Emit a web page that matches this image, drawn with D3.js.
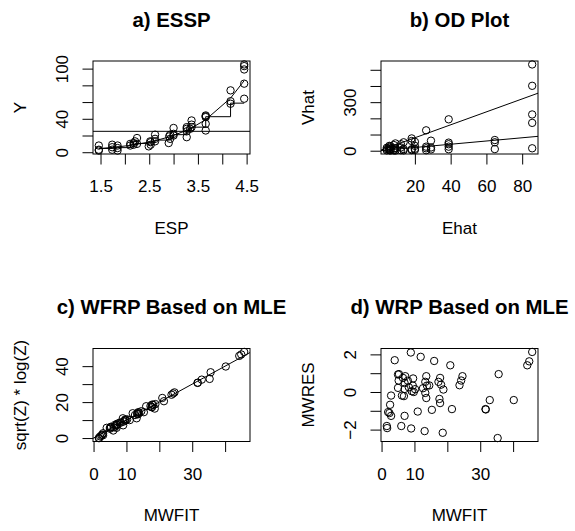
<!DOCTYPE html>
<html>
<head>
<meta charset="utf-8">
<script src="https://cdn.jsdelivr.net/npm/d3@7"></script>
<style>
body { margin: 0; background: #fff; }
svg text { font-family: "Liberation Sans", Arial, Helvetica, sans-serif; fill: #000; }
</style>
</head>
<body>
<svg id="chart" width="575" height="531"></svg>
<script>
// DATA ------------------------------------

// a) ESSP : estimated sufficient predictor vs response
const espA = [1.465, 1.465, 1.465, 1.74, 1.74, 1.74, 1.85, 1.85, 1.85,
  2.11, 2.11, 2.18, 2.18, 2.21, 2.25, 2.25,
  2.49, 2.52, 2.53, 2.53, 2.62, 2.62, 2.62,
  2.90, 2.91, 2.93, 2.93, 3.0, 3.0, 3.0,
  3.27, 3.27, 3.27, 3.27, 3.34, 3.37, 3.37, 3.37,
  3.66, 3.66, 3.66, 3.66, 3.66, 4.17, 4.17, 4.17,
  4.45, 4.45, 4.45, 4.45, 4.45];
const yA = [8, 3, 2, 9, 3, 6, 8, 2, 5,
  10, 8, 11, 9, 13, 17, 10,
  7, 13, 9, 12, 16, 21, 13,
  11, 19, 16, 21, 22, 29, 20,
  30, 18, 25, 28, 28, 38, 30, 33,
  44, 42, 34, 26, 43, 74, 61, 58,
  82, 64, 103, 99, 105];
// fitted curve knots and slice-mean step line
const curveEsp = [1.465, 1.74, 1.85, 2.11, 2.21, 2.49, 2.62, 2.90, 3.0, 3.27, 3.37, 3.66, 4.17, 4.45];
const curveFit = [4.3, 5.7, 6.4, 8.2, 9.1, 12.1, 13.7, 18.2, 20.1, 26.3, 29.1, 38.9, 64.7, 85.6];
const stepFit  = [4.5, 5, 5.5, 9, 10.5, 11.5, 14.5, 17, 21, 26, 30, 42.5, 58.7, 58.7];
const meanY = 25;

// b) OD plot
const ehatB = [4.3, 4.3, 4.3, 5.7, 5.7, 5.7, 5.7, 6.4, 6.4, 6.4,
  8.2, 8.2, 8.2, 8.2, 9.1, 9.1, 9.1, 12.2, 12.2, 12.2, 13.7, 13.7, 13.7,
  18.2, 18.2, 18.2, 18.2, 20.0, 20.0, 20.0, 20.0, 26.3, 26.3, 26.3, 26.3,
  29.0, 29.0, 29.0, 38.9, 38.9, 38.9, 38.9, 38.9,
  64.7, 64.7, 64.7, 85.6, 85.6, 85.6, 85.6, 85.6];
const vhatB = [2, 10, 18, 3, 8, 20, 30, 1, 12, 28,
  2, 5, 15, 35, 1, 14, 45, 3, 20, 40, 2, 10, 52,
  4, 9, 60, 76, 5, 12, 30, 55, 3, 15, 25, 126,
  8, 20, 62, 9, 25, 40, 50, 194,
  10, 52, 66, 15, 172, 224, 401, 533];
const odLines = [{a: 0, b: 1}, {a: 0, b: 4}];

// c) and d) share MWFIT
const mwfit = [45.8, 44.9, 44.3, 35.6, 32.9, 40.2, 31.6, 31.7, 35.3,
  8.9, 11.9, 4.0, 16.0, 20.9, 5.0, 5.3, 7.2, 9.6, 13.6, 17.8,
  24.6, 24.2, 23.7, 5.2, 7.0, 5.0, 7.0, 9.5, 9.2, 9.8,
  13.8, 13.3, 13.3, 13.6, 17.3, 18.1, 18.8, 6.2, 6.8, 2.9,
  2.6, 2.0, 2.9, 2.4, 11.0, 15.3, 17.6, 17.8, 21.4, 7.0,
  1.6, 1.7, 6.0, 9.0, 13.1, 18.6, 8.0, 8.3, 10.2, 6.5, 12.6, 14.5];
const wfrpY = [47.9, 46.5, 45.7, 36.6, 32.5, 39.8, 30.7, 30.8, 32.9,
  11.0, 13.8, 5.7, 17.7, 22.3, 5.9, 6.3, 8.0, 10.3, 14.4, 18.6,
  25.4, 24.8, 24.1, 5.8, 7.5, 5.2, 7.2, 9.8, 9.2, 9.8,
  14.1, 13.8, 13.3, 13.3, 17.8, 18.5, 18.9, 6.0, 6.6, 2.7,
  1.9, 0.9, 1.6, 1.3, 10.0, 14.4, 17.2, 17.2, 20.5, 5.7,
  0.0, 0.0, 4.2, 7.1, 11.0, 16.4, 8.6, 8.6, 10.4, 7.3, 12.8, 14.9];
const mwres = [2.13, 1.63, 1.42, 0.95, -0.43, -0.43, -0.91, -0.93, -2.45,
  2.10, 1.87, 1.69, 1.65, 1.42, 0.93, 0.95, 0.84, 0.72, 0.84, 0.75,
  0.84, 0.61, 0.36, 0.61, 0.48, 0.22, 0.16, 0.34, 0.04, 0.0,
  0.34, 0.54, -0.05, -0.32, 0.54, 0.39, 0.13, -0.19, -0.22, -0.19,
  -0.68, -1.07, -1.27, -1.12, -1.04, -0.95, -0.37, -0.59, -0.91, -1.27,
  -1.81, -1.92, -1.81, -1.94, -2.08, -2.17, 0.6, 0.25, 0.15, 0.75, 0.2, 0.35];

// tick values / labels shown
const ticksA = {x: [1.5, 2, 2.5, 3, 3.5, 4, 4.5], xl: [1.5, 2.5, 3.5, 4.5], y: [0, 20, 40, 60, 80, 100], yl: [0, 40, 100]};
const ticksB = {x: [20, 40, 60, 80], xl: [20, 40, 60, 80], y: [0, 100, 200, 300, 400, 500], yl: [0, 300]};
const ticksC = {x: [0, 10, 20, 30, 40], xl: [0, 10, 30], y: [0, 10, 20, 30, 40], yl: [0, 20, 40]};
const ticksD = {x: [0, 10, 20, 30, 40], xl: [0, 10, 30], y: [-2, -1, 0, 1, 2], yl: [-2, 0, 2]};

// LAYOUT ----------------------------------
const bw = 157, bh = 93;   // plot box size
const tickLen = 10.5;
const fontSize = 17, titleSize = 20.4;

const svg = d3.select("#chart");

// R style 4% range extension
function pad(ext) {
    const d = (ext[1] - ext[0]) * 0.04;
    return [ext[0] - d, ext[1] + d];
}

const fmt = d => String(d).replace("-", "\u2212");

function panel(cfg) {
    const g = svg.append("g")
        .attr("transform", "translate(" + cfg.left + "," + cfg.top + ")");

    const x = d3.scaleLinear().domain(pad(d3.extent(cfg.xs))).range([0, bw]);
    const y = d3.scaleLinear().domain(pad(d3.extent(cfg.ys))).range([bh, 0]);

    const clipId = "clip-" + cfg.id;
    g.append("clipPath").attr("id", clipId)
        .append("rect").attr("width", bw).attr("height", bh);

    // axes
    const xAxis = d3.axisBottom(x)
        .tickValues(cfg.ticks.x)
        .tickSize(tickLen)
        .tickSizeOuter(0)
        .tickFormat(d => cfg.ticks.xl.includes(d) ? fmt(d) : "");
    const xg = g.append("g")
        .attr("transform", "translate(0," + bh + ")")
        .call(xAxis);
    xg.selectAll("text")
        .attr("y", 38).attr("dy", null)
        .attr("font-size", fontSize);

    const yAxis = d3.axisLeft(y)
        .tickValues(cfg.ticks.y)
        .tickSize(tickLen)
        .tickSizeOuter(0)
        .tickFormat(d => cfg.ticks.yl.includes(d) ? fmt(d) : "");
    const yg = g.append("g").call(yAxis);
    yg.selectAll("text")
        .attr("x", null).attr("dy", null)
        .attr("text-anchor", "middle")
        .attr("transform", "translate(-25.5,0) rotate(-90)")
        .attr("font-size", fontSize);

    g.selectAll(".domain").remove();

    // box
    g.append("rect")
        .attr("width", bw).attr("height", bh)
        .attr("fill", "none").attr("stroke", "#000").attr("stroke-width", 1);

    // lines drawn inside box
    const inner = g.append("g").attr("clip-path", "url(#" + clipId + ")");
    if (cfg.extra) cfg.extra(inner, x, y);

    // points
    g.append("g").selectAll("circle")
        .data(cfg.xs.map((v, i) => [v, cfg.ys[i]]))
        .join("circle")
        .attr("cx", d => x(d[0]))
        .attr("cy", d => y(d[1]))
        .attr("r", 3.7)
        .attr("fill", "none")
        .attr("stroke", "#000")
        .attr("stroke-width", 1);

    // titles
    g.append("text")
        .attr("x", bw / 2).attr("y", -34.3)
        .attr("text-anchor", "middle")
        .attr("font-size", titleSize)
        .attr("font-weight", "bold")
        .text(cfg.title);
    g.append("text")
        .attr("x", bw / 2).attr("y", bh + 79.5)
        .attr("text-anchor", "middle")
        .attr("font-size", fontSize)
        .text(cfg.xlab);
    g.append("text")
        .attr("transform", "translate(-67," + (bh / 2) + ") rotate(-90)")
        .attr("text-anchor", "middle")
        .attr("font-size", fontSize)
        .text(cfg.ylab);
}

function abline(g, x, y, a, b) {
    const [x0, x1] = x.domain();
    g.append("line")
        .attr("x1", x(x0)).attr("y1", y(a + b * x0))
        .attr("x2", x(x1)).attr("y2", y(a + b * x1))
        .attr("stroke", "#000").attr("stroke-width", 1);
}

// PANELS ----------------------------------

panel({
    id: "a", left: 93, top: 61,
    xs: espA, ys: yA, ticks: ticksA,
    title: "a) ESSP", xlab: "ESP", ylab: "Y",
    extra: (g, x, y) => {
        abline(g, x, y, meanY, 0);
        const knots = curveEsp.map((e, i) => [e, curveFit[i]]);
        g.append("path")
            .attr("d", d3.line().x(d => x(d[0])).y(d => y(d[1]))(knots))
            .attr("fill", "none").attr("stroke", "#000");
        const steps = curveEsp.map((e, i) => [e, stepFit[i]]);
        g.append("path")
            .attr("d", d3.line().curve(d3.curveStepAfter).x(d => x(d[0])).y(d => y(d[1]))(steps))
            .attr("fill", "none").attr("stroke", "#000");
    }
});

panel({
    id: "b", left: 381, top: 61,
    xs: ehatB, ys: vhatB, ticks: ticksB,
    title: "b) OD Plot", xlab: "Ehat", ylab: "Vhat",
    extra: (g, x, y) => odLines.forEach(l => abline(g, x, y, l.a, l.b))
});

panel({
    id: "c", left: 93, top: 348.5,
    xs: mwfit, ys: wfrpY, ticks: ticksC,
    title: "c) WFRP Based on MLE", xlab: "MWFIT", ylab: "sqrt(Z) * log(Z)",
    extra: (g, x, y) => abline(g, x, y, 0, 1)
});

panel({
    id: "d", left: 381, top: 348.5,
    xs: mwfit, ys: mwres, ticks: ticksD,
    title: "d) WRP Based on MLE", xlab: "MWFIT", ylab: "MWRES"
});
</script>
</body>
</html>
